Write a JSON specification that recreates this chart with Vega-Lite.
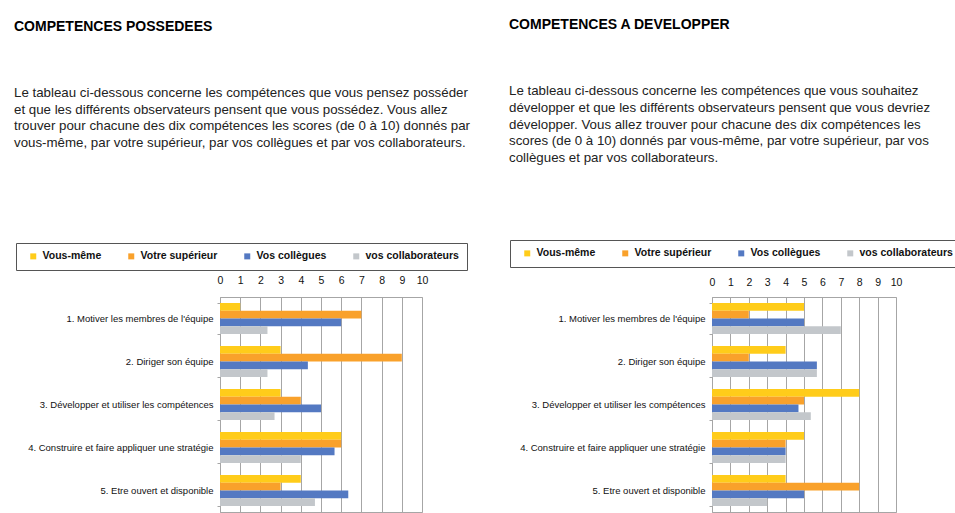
{
  "$schema": "https://vega.github.io/schema/vega-lite/v6.json",
  "background": "white",
  "padding": {"left": 13, "top": 17, "right": 0, "bottom": 0},
  "spacing": 37,
  "datasets": {
    "possedees": [
      {"competence": "1. Motiver les membres de l'équipe", "observateur": "Vous-même", "score": 1},
      {"competence": "1. Motiver les membres de l'équipe", "observateur": "Votre supérieur", "score": 7},
      {"competence": "1. Motiver les membres de l'équipe", "observateur": "Vos collègues", "score": 6},
      {"competence": "1. Motiver les membres de l'équipe", "observateur": "vos collaborateurs", "score": 2.35},
      {"competence": "2. Diriger son équipe", "observateur": "Vous-même", "score": 3},
      {"competence": "2. Diriger son équipe", "observateur": "Votre supérieur", "score": 9},
      {"competence": "2. Diriger son équipe", "observateur": "Vos collègues", "score": 4.35},
      {"competence": "2. Diriger son équipe", "observateur": "vos collaborateurs", "score": 2.35},
      {"competence": "3. Développer et utiliser les compétences", "observateur": "Vous-même", "score": 3},
      {"competence": "3. Développer et utiliser les compétences", "observateur": "Votre supérieur", "score": 4},
      {"competence": "3. Développer et utiliser les compétences", "observateur": "Vos collègues", "score": 5},
      {"competence": "3. Développer et utiliser les compétences", "observateur": "vos collaborateurs", "score": 2.7},
      {"competence": "4. Construire et faire appliquer une stratégie", "observateur": "Vous-même", "score": 6},
      {"competence": "4. Construire et faire appliquer une stratégie", "observateur": "Votre supérieur", "score": 6},
      {"competence": "4. Construire et faire appliquer une stratégie", "observateur": "Vos collègues", "score": 5.67},
      {"competence": "4. Construire et faire appliquer une stratégie", "observateur": "vos collaborateurs", "score": 4},
      {"competence": "5. Etre ouvert et disponible", "observateur": "Vous-même", "score": 4},
      {"competence": "5. Etre ouvert et disponible", "observateur": "Votre supérieur", "score": 3},
      {"competence": "5. Etre ouvert et disponible", "observateur": "Vos collègues", "score": 6.35},
      {"competence": "5. Etre ouvert et disponible", "observateur": "vos collaborateurs", "score": 4.7}
    ],
    "developper": [
      {"competence": "1. Motiver les membres de l'équipe", "observateur": "Vous-même", "score": 5},
      {"competence": "1. Motiver les membres de l'équipe", "observateur": "Votre supérieur", "score": 2},
      {"competence": "1. Motiver les membres de l'équipe", "observateur": "Vos collègues", "score": 5},
      {"competence": "1. Motiver les membres de l'équipe", "observateur": "vos collaborateurs", "score": 7},
      {"competence": "2. Diriger son équipe", "observateur": "Vous-même", "score": 4},
      {"competence": "2. Diriger son équipe", "observateur": "Votre supérieur", "score": 2},
      {"competence": "2. Diriger son équipe", "observateur": "Vos collègues", "score": 5.7},
      {"competence": "2. Diriger son équipe", "observateur": "vos collaborateurs", "score": 5.7},
      {"competence": "3. Développer et utiliser les compétences", "observateur": "Vous-même", "score": 8},
      {"competence": "3. Développer et utiliser les compétences", "observateur": "Votre supérieur", "score": 5},
      {"competence": "3. Développer et utiliser les compétences", "observateur": "Vos collègues", "score": 4.7},
      {"competence": "3. Développer et utiliser les compétences", "observateur": "vos collaborateurs", "score": 5.37},
      {"competence": "4. Construire et faire appliquer une stratégie", "observateur": "Vous-même", "score": 5},
      {"competence": "4. Construire et faire appliquer une stratégie", "observateur": "Votre supérieur", "score": 4},
      {"competence": "4. Construire et faire appliquer une stratégie", "observateur": "Vos collègues", "score": 4},
      {"competence": "4. Construire et faire appliquer une stratégie", "observateur": "vos collaborateurs", "score": 4},
      {"competence": "5. Etre ouvert et disponible", "observateur": "Vous-même", "score": 4},
      {"competence": "5. Etre ouvert et disponible", "observateur": "Votre supérieur", "score": 8},
      {"competence": "5. Etre ouvert et disponible", "observateur": "Vos collègues", "score": 5},
      {"competence": "5. Etre ouvert et disponible", "observateur": "vos collaborateurs", "score": 3}
    ]
  },
  "hconcat": [
    {
      "data": {"name": "possedees"},
      "width": 202,
      "height": 215,
      "title": {
        "text": "COMPETENCES POSSEDEES",
        "subtitle": [
          "Le tableau ci-dessous concerne les compétences que vous pensez posséder",
          "et que les différents observateurs pensent que vous possédez. Vous allez",
          "trouver pour chacune des dix compétences les scores (de 0 à 10) donnés par",
          "vous-même, par votre supérieur, par vos collègues et par vos collaborateurs."
        ],
        "offset": 93,
        "dx": -206
      },
      "mark": {"type": "bar"},
      "encoding": {
        "y": {"field": "competence", "type": "nominal", "sort": null, "title": null,
              "scale": {"paddingInner": 0.28, "paddingOuter": 0.14}},
        "yOffset": {"field": "observateur", "sort": ["Vous-même", "Votre supérieur", "Vos collègues", "vos collaborateurs"]},
        "x": {"field": "score", "type": "quantitative", "title": null,
              "scale": {"domain": [0, 10], "nice": false},
              "axis": {"orient": "top", "values": [0,1,2,3,4,5,6,7,8,9,10], "labelPadding": 12}},
        "color": {"field": "observateur", "type": "nominal",
                  "scale": {"domain": ["Vous-même", "Votre supérieur", "Vos collègues", "vos collaborateurs"],
                            "range": ["#FFCC1A", "#F9A12B", "#5479C2", "#C3C7CB"]},
                  "legend": {"orient": "none", "legendX": -204, "legendY": -54, "direction": "horizontal", "title": null}}
      }
    },
    {
      "data": {"name": "developper"},
      "width": 184,
      "height": 215,
      "title": {
        "text": "COMPETENCES A DEVELOPPER",
        "subtitle": [
          "Le tableau ci-dessous concerne les compétences que vous souhaitez",
          "développer et que les différents observateurs pensent que vous devriez",
          "développer. Vous allez trouver pour chacune des dix compétences les",
          "scores (de 0 à 10) donnés par vous-même, par votre supérieur, par vos",
          "collègues et par vos collaborateurs."
        ],
        "offset": 75,
        "dx": -203
      },
      "mark": {"type": "bar"},
      "encoding": {
        "y": {"field": "competence", "type": "nominal", "sort": null, "title": null,
              "scale": {"paddingInner": 0.28, "paddingOuter": 0.14}},
        "yOffset": {"field": "observateur", "sort": ["Vous-même", "Votre supérieur", "Vos collègues", "vos collaborateurs"]},
        "x": {"field": "score", "type": "quantitative", "title": null,
              "scale": {"domain": [0, 10], "nice": false},
              "axis": {"orient": "top", "values": [0,1,2,3,4,5,6,7,8,9,10], "labelPadding": 10}},
        "color": {"field": "observateur", "type": "nominal",
                  "scale": {"domain": ["Vous-même", "Votre supérieur", "Vos collègues", "vos collaborateurs"],
                            "range": ["#FFCC1A", "#F9A12B", "#5479C2", "#C3C7CB"]},
                  "legend": {"orient": "none", "legendX": -202, "legendY": -57, "direction": "horizontal", "title": null}}
      }
    }
  ],
  "resolve": {"scale": {"y": "independent", "x": "independent", "color": "independent"}, "legend": {"color": "independent"}},
  "config": {
    "font": "Liberation Sans",
    "view": {"stroke": "#a6a6a6"},
    "title": {
      "anchor": "start", "frame": "group", "font": "Liberation Sans", "fontSize": 14, "fontWeight": "bold", "color": "#000",
      "subtitleFont": "Liberation Sans", "subtitleFontSize": 13.3, "subtitleColor": "#222", "subtitleLineHeight": 16.7, "subtitlePadding": 52
    },
    "axisX": {"ticks": false, "domain": false, "grid": true, "gridColor": "#a6a6a6", "labelFontSize": 10.5, "labelColor": "#111", "labelFlush": false},
    "axisY": {"labelFontSize": 9.5, "labelColor": "#111", "labelLimit": 0, "labelPadding": 4, "tickBand": "extent", "tickColor": "#a6a6a6", "tickSize": 3, "domainColor": "#a6a6a6", "grid": false},
    "legend": {"strokeColor": "#555", "padding": 8, "columnPadding": 20, "labelFontSize": 10.5, "labelFontWeight": "bold", "labelColor": "#111", "symbolType": "square", "symbolSize": 36, "symbolStrokeWidth": 0, "symbolOpacity": 1, "labelOffset": 4, "symbolOffset": 4}
  }
}
